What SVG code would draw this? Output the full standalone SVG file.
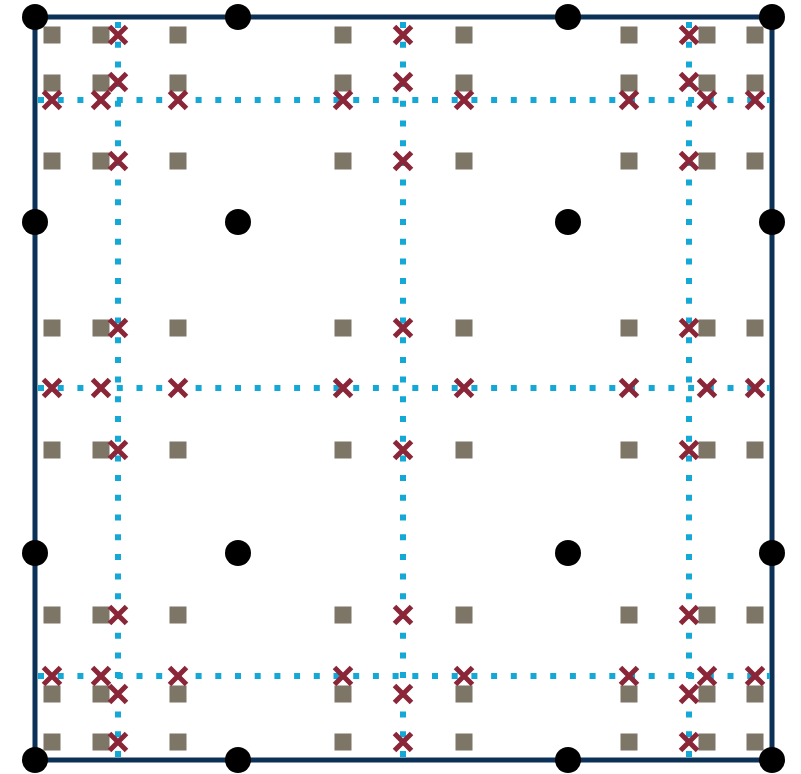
<svg xmlns="http://www.w3.org/2000/svg" xmlns:xlink="http://www.w3.org/1999/xlink" width="801" height="774" viewBox="0 0 801 774">
<style>
.frame{fill:none;stroke:#0b3157;stroke-width:5}
.dot{fill:#000}
.sq{fill:#7d7566}
.grid{stroke:#14a8d6;stroke-width:6;stroke-dasharray:6 13.7;fill:none}
.x{stroke:#8a2638;stroke-width:5;stroke-linecap:butt;fill:none}
</style>
<defs>
<rect id="s" class="sq" x="-8.5" y="-8.5" width="17" height="17"/>
<path id="x" class="x" d="M-8.5,-8.5L8.5,8.5M8.5,-8.5L-8.5,8.5"/>
<circle id="d" class="dot" r="13"/>
</defs>
<rect id="frame" class="frame" x="35" y="17" width="737" height="743"/>
<g id="squares">
<g id="sqrow1"><use href="#s" x="52" y="35"/><use href="#s" x="101" y="35"/><use href="#s" x="178" y="35"/><use href="#s" x="343" y="35"/><use href="#s" x="464" y="35"/><use href="#s" x="629" y="35"/><use href="#s" x="707" y="35"/><use href="#s" x="755" y="35"/></g>
<g id="sqrow2"><use href="#s" x="52" y="83"/><use href="#s" x="101" y="83"/><use href="#s" x="178" y="83"/><use href="#s" x="343" y="83"/><use href="#s" x="464" y="83"/><use href="#s" x="629" y="83"/><use href="#s" x="707" y="83"/><use href="#s" x="755" y="83"/></g>
<g id="sqrow3"><use href="#s" x="52" y="161"/><use href="#s" x="101" y="161"/><use href="#s" x="178" y="161"/><use href="#s" x="343" y="161"/><use href="#s" x="464" y="161"/><use href="#s" x="629" y="161"/><use href="#s" x="707" y="161"/><use href="#s" x="755" y="161"/></g>
<g id="sqrow4"><use href="#s" x="52" y="328"/><use href="#s" x="101" y="328"/><use href="#s" x="178" y="328"/><use href="#s" x="343" y="328"/><use href="#s" x="464" y="328"/><use href="#s" x="629" y="328"/><use href="#s" x="707" y="328"/><use href="#s" x="755" y="328"/></g>
<g id="sqrow5"><use href="#s" x="52" y="450"/><use href="#s" x="101" y="450"/><use href="#s" x="178" y="450"/><use href="#s" x="343" y="450"/><use href="#s" x="464" y="450"/><use href="#s" x="629" y="450"/><use href="#s" x="707" y="450"/><use href="#s" x="755" y="450"/></g>
<g id="sqrow6"><use href="#s" x="52" y="615"/><use href="#s" x="101" y="615"/><use href="#s" x="178" y="615"/><use href="#s" x="343" y="615"/><use href="#s" x="464" y="615"/><use href="#s" x="629" y="615"/><use href="#s" x="707" y="615"/><use href="#s" x="755" y="615"/></g>
<g id="sqrow7"><use href="#s" x="52" y="694"/><use href="#s" x="101" y="694"/><use href="#s" x="178" y="694"/><use href="#s" x="343" y="694"/><use href="#s" x="464" y="694"/><use href="#s" x="629" y="694"/><use href="#s" x="707" y="694"/><use href="#s" x="755" y="694"/></g>
<g id="sqrow8"><use href="#s" x="52" y="742"/><use href="#s" x="101" y="742"/><use href="#s" x="178" y="742"/><use href="#s" x="343" y="742"/><use href="#s" x="464" y="742"/><use href="#s" x="629" y="742"/><use href="#s" x="707" y="742"/><use href="#s" x="755" y="742"/></g>
</g>
<g id="gridlines">
<line class="grid" x1="38" y1="100" x2="770" y2="100"/>
<line class="grid" x1="38" y1="388" x2="770" y2="388"/>
<line class="grid" x1="38" y1="676" x2="770" y2="676"/>
<line class="grid" x1="118" y1="22" x2="118" y2="758"/>
<line class="grid" x1="403" y1="22" x2="403" y2="758"/>
<line class="grid" x1="689" y1="22" x2="689" y2="758"/>
</g>
<g id="crosses">
<g id="xcol1"><use href="#x" x="118" y="35"/><use href="#x" x="118" y="82"/><use href="#x" x="118" y="161"/><use href="#x" x="118" y="328"/><use href="#x" x="118" y="450"/><use href="#x" x="118" y="615"/><use href="#x" x="118" y="694"/><use href="#x" x="118" y="742"/></g>
<g id="xcol2"><use href="#x" x="403" y="35"/><use href="#x" x="403" y="82"/><use href="#x" x="403" y="161"/><use href="#x" x="403" y="328"/><use href="#x" x="403" y="450"/><use href="#x" x="403" y="615"/><use href="#x" x="403" y="694"/><use href="#x" x="403" y="742"/></g>
<g id="xcol3"><use href="#x" x="689" y="35"/><use href="#x" x="689" y="82"/><use href="#x" x="689" y="161"/><use href="#x" x="689" y="328"/><use href="#x" x="689" y="450"/><use href="#x" x="689" y="615"/><use href="#x" x="689" y="694"/><use href="#x" x="689" y="742"/></g>
<g id="xrow1"><use href="#x" x="52" y="100"/><use href="#x" x="101" y="100"/><use href="#x" x="178" y="100"/><use href="#x" x="343" y="100"/><use href="#x" x="464" y="100"/><use href="#x" x="629" y="100"/><use href="#x" x="707" y="100"/><use href="#x" x="755" y="100"/></g>
<g id="xrow2"><use href="#x" x="52" y="388"/><use href="#x" x="101" y="388"/><use href="#x" x="178" y="388"/><use href="#x" x="343" y="388"/><use href="#x" x="464" y="388"/><use href="#x" x="629" y="388"/><use href="#x" x="707" y="388"/><use href="#x" x="755" y="388"/></g>
<g id="xrow3"><use href="#x" x="52" y="676"/><use href="#x" x="101" y="676"/><use href="#x" x="178" y="676"/><use href="#x" x="343" y="676"/><use href="#x" x="464" y="676"/><use href="#x" x="629" y="676"/><use href="#x" x="707" y="676"/><use href="#x" x="755" y="676"/></g>
</g>
<g id="nodes">
<g id="n1"><use href="#d" x="35" y="17"/></g><g id="n2"><use href="#d" x="238" y="17"/></g><g id="n3"><use href="#d" x="568" y="17"/></g><g id="n4"><use href="#d" x="772" y="17"/></g>
<g id="n5"><use href="#d" x="35" y="222"/></g><g id="n6"><use href="#d" x="238" y="222"/></g><g id="n7"><use href="#d" x="568" y="222"/></g><g id="n8"><use href="#d" x="772" y="222"/></g>
<g id="n9"><use href="#d" x="35" y="553"/></g><g id="n10"><use href="#d" x="238" y="553"/></g><g id="n11"><use href="#d" x="568" y="553"/></g><g id="n12"><use href="#d" x="772" y="553"/></g>
<g id="n13"><use href="#d" x="35" y="760"/></g><g id="n14"><use href="#d" x="238" y="760"/></g><g id="n15"><use href="#d" x="568" y="760"/></g><g id="n16"><use href="#d" x="772" y="760"/></g>
</g>
</svg>
